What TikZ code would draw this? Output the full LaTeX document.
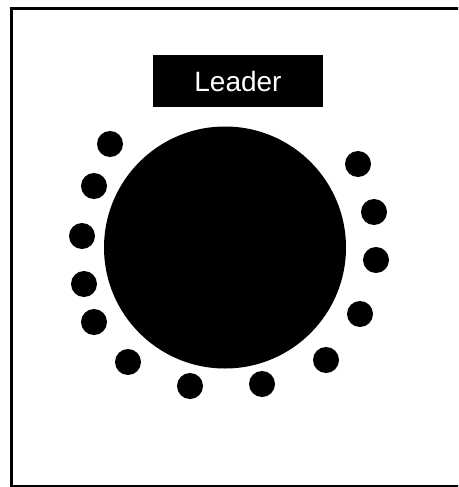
\documentclass[tikz,border=0pt]{standalone}
\usepackage{fontspec}
\newfontfamily\labelfont{Liberation Sans}
\usetikzlibrary{positioning}

\begin{document}
\begin{tikzpicture}[
  x=1pt, y=-1pt,
  frame/.style={draw=black, line width=3.5pt},
  namebox/.style={fill=black, text=white, minimum width=170pt, minimum height=52pt, inner sep=0pt, font=\labelfont\fontsize{28}{31}\selectfont},
  tablecircle/.style={circle, fill=black, minimum size=242pt, inner sep=0pt},
  seat/.style={circle, fill=black, minimum size=26pt, inner sep=0pt}
]
\useasboundingbox (0,0) rectangle (458,487);
\clip (0,0) rectangle (458,487);
\draw[frame] (470,8.5) -- (11.3,8.5) -- (11.3,487) -- (470,487);
\node[namebox] (leader) at (238,81) {Leader};
\node[tablecircle] (table) at (225,247.5) {};
\foreach \x/\y [count=\i] in {110/144, 94/186, 82/236, 84/284, 94/322, 128/362, 190/386, 262/384, 326/360, 360/314, 376/260, 374/212, 358/164}
  \node[seat] (seat\i) at (\x,\y) {};
\end{tikzpicture}
\end{document}
